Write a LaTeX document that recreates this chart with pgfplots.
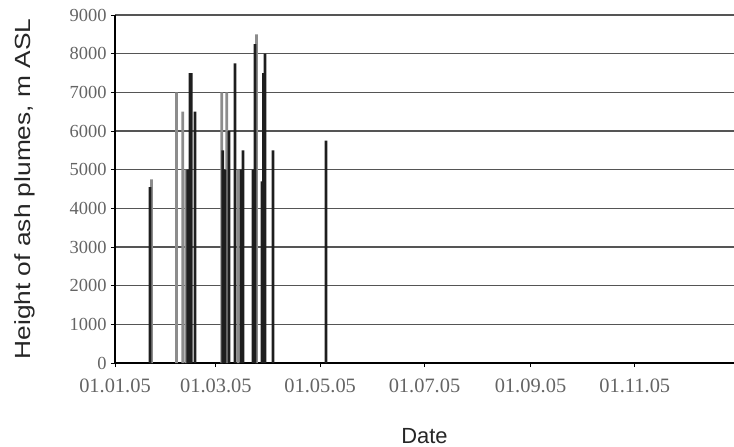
\documentclass[border=0pt]{standalone}
\usepackage{pgfplots}
\pgfplotsset{compat=1.18}
\usepackage{fontspec}
\setmainfont{Liberation Serif}
\setsansfont{Liberation Sans}
\definecolor{gridc}{RGB}{85,85,85}
\definecolor{barblack}{RGB}{30,30,30}
\definecolor{bargrey}{RGB}{140,140,140}
\definecolor{tickc}{RGB}{100,100,100}
\begin{document}
\begin{tikzpicture}
\path[use as bounding box] (-115bp,-84bp) rectangle (619bp,363bp);
\begin{axis}[
  scale only axis,
  width=619bp, height=348bp,
  xmin=0, xmax=362, ymin=0, ymax=9000,
  axis lines*=left,
  axis line style={black, line width=1.3bp},
  ytick={0,1000,...,9000},
  xtick={0,59,120,181,243,304},
  xticklabels={01.01.05,01.03.05,01.05.05,01.07.05,01.09.05,01.11.05},
  ymajorgrids,
  major grid style={gridc, line width=1.3bp},
  tick align=outside,
  major tick length=4bp,
  tick style={black, line width=0.8bp},
  /pgf/number format/assume math mode=true,
  /pgf/number format/1000 sep={},
  yticklabel style={font=\fontsize{18.5}{20}\selectfont, text=tickc, xshift=-1bp},
  xticklabel style={font=\fontsize{20.5}{22}\selectfont, text=tickc, yshift=-8bp},
  every axis x label/.style={at={(axis description cs:0.5,0)}, anchor=base, yshift=-80bp},
  every axis y label/.style={at={(axis description cs:-0.1454,0.5)}, rotate=90, anchor=center},
  label style={font=\sffamily\fontsize{22}{26}\selectfont, text=black!85},
  xlabel={Date},
  ylabel={\scalebox{1.2}[1]{Height of ash plumes, m ASL}},
  ybar, bar width=2.8bp, bar shift=0pt,
  clip=false,
]
% grey events
\addplot[fill=bargrey, draw=none] coordinates {
  (21.4,4750) (36,7000) (39.6,6500) (41.5,5000)
  (62.4,7000) (65.3,7000) (72,5000) (82.8,8500)
};
% black events
\addplot[fill=barblack, draw=none] coordinates {
  (20.5,4550) (42.6,5000) (43.9,7500) (44.6,7500) (46.8,6500)
  (63,5500) (64.3,5000) (66.7,6000) (70.2,7750) (73.7,5000) (74.9,5500)
  (80.7,5000) (81.9,8250) (86,4700) (86.9,7500) (87.7,8000) (92.4,5500)
  (123.4,5750)
};
\end{axis}
\end{tikzpicture}
\end{document}
